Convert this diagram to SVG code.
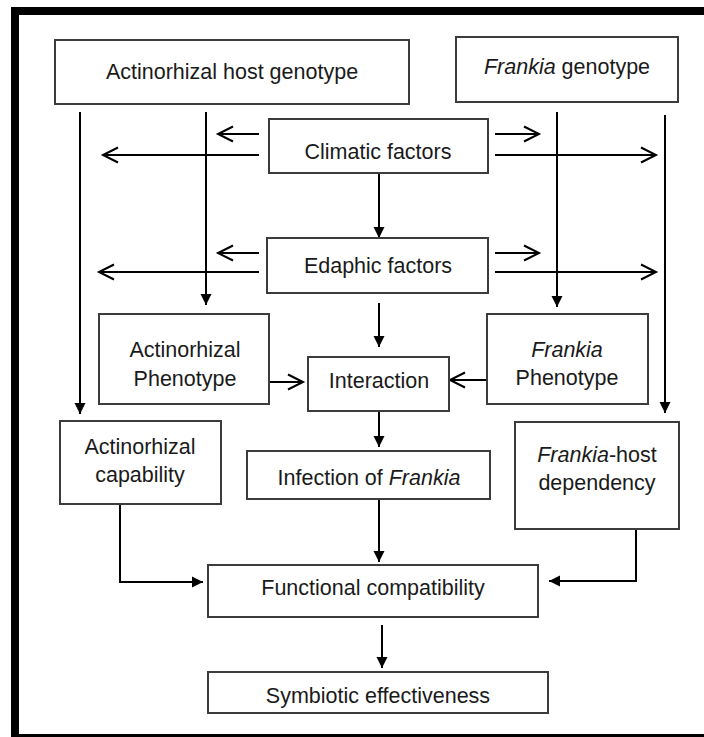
<svg xmlns="http://www.w3.org/2000/svg" width="704" height="737" viewBox="0 0 704 737">
<style>
.box{fill:#fff;stroke:#3c3c3c;stroke-width:2}
.t{font-family:"Liberation Sans",Arial,sans-serif;font-size:21.5px;fill:#1a1a1a;text-anchor:middle}
.i{font-style:italic}
.c{fill:none;stroke:#000;stroke-width:2}
.f{marker-end:url(#fa)}
.o{marker-end:url(#oa)}
</style>
<defs>
<marker id="fa" markerUnits="userSpaceOnUse" markerWidth="12" markerHeight="12" refX="11" refY="6" orient="auto" overflow="visible">
<path d="M0,0.5 L11,6 L0,11.5 z" fill="#000"/>
</marker>
<marker id="oa" markerUnits="userSpaceOnUse" markerWidth="16" markerHeight="16" refX="15" refY="7.5" orient="auto" overflow="visible">
<path d="M0,0 L15,7.5 L0,15" fill="none" stroke="#000" stroke-width="2"/>
</marker>
</defs>
<rect width="704" height="737" fill="#fff"/>
<g id="frame" fill="#000">
<rect x="11" y="7" width="693" height="8"/>
<rect x="11" y="7" width="8" height="730"/>
<rect x="11" y="734" width="693" height="3"/>
</g>
<g id="connectors">
<path class="c f" d="M80,112 V414"/>
<path class="c f" d="M206,112 V305"/>
<path class="c f" d="M557,112 V307"/>
<path class="c f" d="M665,115 V413"/>
<path class="c o" d="M259,134 H218"/>
<path class="c o" d="M259,155 H103"/>
<path class="c o" d="M495,134 H539"/>
<path class="c o" d="M495,155 H656"/>
<path class="c f" d="M379,173 V238"/>
<path class="c o" d="M259,253 H218"/>
<path class="c o" d="M259,272 H99"/>
<path class="c o" d="M495,253 H539"/>
<path class="c o" d="M495,272 H656"/>
<path class="c f" d="M379,303 V347"/>
<path class="c o" d="M269,382 H303"/>
<path class="c o" d="M487,380 H450"/>
<path class="c f" d="M379,411 V447"/>
<path class="c f" d="M379,499 V562"/>
<path class="c f" d="M382,625 V668"/>
<path class="c f" d="M120,504 V582 H203"/>
<path class="c f" d="M636,529 V581 H549"/>
</g>
<g id="host-genotype"><rect class="box" x="55" y="40" width="354" height="64"/><text class="t" x="232" y="79">Actinorhizal host genotype</text></g>
<g id="frankia-genotype"><rect class="box" x="456" y="37" width="222" height="65"/><text class="t" x="567" y="74"><tspan class="i">Frankia</tspan> genotype</text></g>
<g id="climatic"><rect class="box" x="269" y="119" width="219" height="54"/><text class="t" x="378" y="159">Climatic factors</text></g>
<g id="edaphic"><rect class="box" x="267" y="238" width="221" height="55"/><text class="t" x="378" y="273">Edaphic factors</text></g>
<g id="actino-phenotype"><rect class="box" x="99" y="314" width="170" height="90"/><text class="t" x="185" y="357">Actinorhizal</text><text class="t" x="185" y="386">Phenotype</text></g>
<g id="interaction"><rect class="box" x="308" y="357" width="141" height="54"/><text class="t" x="379" y="388">Interaction</text></g>
<g id="frankia-phenotype"><rect class="box" x="487" y="314" width="161" height="90"/><text class="t i" x="567" y="357">Frankia</text><text class="t" x="567" y="385">Phenotype</text></g>
<g id="actino-capability"><rect class="box" x="60" y="421" width="161" height="83"/><text class="t" x="140" y="454">Actinorhizal</text><text class="t" x="140" y="482">capability</text></g>
<g id="infection"><rect class="box" x="247" y="451" width="243" height="48"/><text class="t" x="369" y="485">Infection of <tspan class="i">Frankia</tspan></text></g>
<g id="host-dependency"><rect class="box" x="515" y="422" width="164" height="107"/><text class="t" x="597" y="462"><tspan class="i">Frankia</tspan>-host</text><text class="t" x="597" y="490">dependency</text></g>
<g id="functional"><rect class="box" x="208" y="565" width="330" height="52"/><text class="t" x="373" y="595">Functional compatibility</text></g>
<g id="symbiotic"><rect class="box" x="208" y="672" width="340" height="41"/><text class="t" x="378" y="703">Symbiotic effectiveness</text></g>
</svg>
